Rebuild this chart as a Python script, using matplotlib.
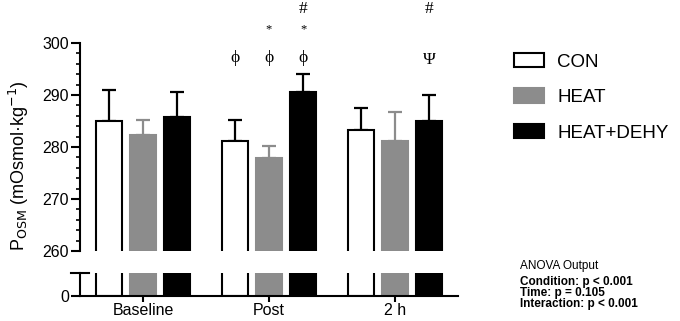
import matplotlib
matplotlib.use("Agg")
import matplotlib.pyplot as plt
from matplotlib.patches import Patch
import numpy as np

plt.rcParams['font.family'] = ['Liberation Sans', 'DejaVu Sans']

timepoints = ["Baseline", "Post", "2 h"]
conditions = ["CON", "HEAT", "HEAT+DEHY"]
con_mean = [285.0, 281.2, 283.3]
con_err = [5.9, 3.9, 4.2]
heat_mean = [282.3, 277.9, 281.1]
heat_err = [2.9, 2.3, 5.6]
dehy_mean = [285.8, 290.6, 285.0]
dehy_err = [4.7, 3.4, 5.0]
means = [con_mean, heat_mean, dehy_mean]
errs = [con_err, heat_err, dehy_err]
# annotations: (timepoint index, condition index, symbol, level)
annotations = [
    (1, 0, "\u03d5", 297.1),
    (1, 1, "\u03d5", 297.1), (1, 1, "*", 302.6),
    (1, 2, "\u03d5", 297.1), (1, 2, "*", 302.6), (1, 2, "#", 306.6),
    (2, 2, "\u03a8", 296.8), (2, 2, "#", 306.6),
]
anova_lines = ["ANOVA Output", "Condition: p < 0.001", "Time: p = 0.105", "Interaction: p < 0.001"]

W, H = 680, 321
fig = plt.figure(figsize=(W/100, H/100), dpi=100)
left = 80/W; width = 378/W
ax = fig.add_axes([left, (H-251)/H, width, (251-43)/H])
axb = fig.add_axes([left, (H-296)/H, width, (296-273)/H])

faces = ["white", "#8c8c8c", "black"]
edges = ["black", "#8c8c8c", "black"]
ecols = ["black", "#8c8c8c", "black"]
x = np.arange(len(timepoints))
bw = 0.2
step = 0.27
for i in range(3):
    xs = x + (i-1)*step
    for a in (ax, axb):
        a.bar(xs, means[i], width=bw, color=faces[i], edgecolor=edges[i], linewidth=1.5, zorder=2)
    ax.errorbar(xs, means[i], yerr=[np.zeros(3), errs[i]], fmt='none', ecolor=ecols[i],
                elinewidth=1.6, capsize=4.8, capthick=1.6, zorder=1)

ax.set_ylim(260, 300)
ax.set_xlim(-0.5, 2.5)
ax.set_yticks([260, 270, 280, 290, 300])
ax.set_yticks(np.arange(260, 301, 2), minor=True)
ax.tick_params(axis='y', which='major', length=6.5, width=1.5, labelsize=11.5, pad=1.5)
ax.tick_params(axis='y', which='minor', length=3, width=1.2)
ax.set_xticks([])
for s in ['top', 'right', 'bottom']:
    ax.spines[s].set_visible(False)
ax.spines['left'].set_linewidth(1.5)

axb.set_ylim(0, 1)
axb.set_xlim(-0.5, 2.5)
axb.set_yticks([0])
axb.set_xticks(x)
axb.set_xticklabels(timepoints)
axb.tick_params(axis='y', length=6.5, width=1.5, labelsize=11.5, pad=1.5)
axb.tick_params(axis='x', length=4, width=1.5, labelsize=11.5, pad=1)
for s in ['top', 'right']:
    axb.spines[s].set_visible(False)
axb.spines['left'].set_linewidth(1.5)
axb.spines['bottom'].set_linewidth(1.5)
axb.plot([-0.024, 0.024], [1, 1], transform=axb.transAxes, color='black', lw=1.5, clip_on=False)

for ti, ci, sym, lvl in annotations:
    ax.text(x[ti] + (ci-1)*step, lvl, sym, ha='center', va='center',
            fontsize=9 if sym == "*" else 12.5,
            family=['Liberation Serif', 'DejaVu Serif'], clip_on=False)

ax.set_ylabel(r"P$_{\mathrm{OSM}}$ (mOsmol·kg$^{-1}$)", fontsize=13)
ax.yaxis.set_label_coords(-0.13, 0.41)

handles = [Patch(facecolor=faces[i], edgecolor=edges[i], linewidth=1.5) for i in range(3)]
fig.legend(handles, conditions, loc='upper left', bbox_to_anchor=(497/W, 1-36/H), frameon=False,
           fontsize=13.5, handlelength=1.6, handleheight=0.8, labelspacing=0.95, handletextpad=0.72)

ys = [266, 282, 293, 304]
for k, t in enumerate(anova_lines):
    fig.text(520/W, 1-ys[k]/H, t, fontsize=8.5, va='center', ha='left',
             fontweight='normal' if k == 0 else 'bold')

fig.savefig("out.png", dpi=100)
